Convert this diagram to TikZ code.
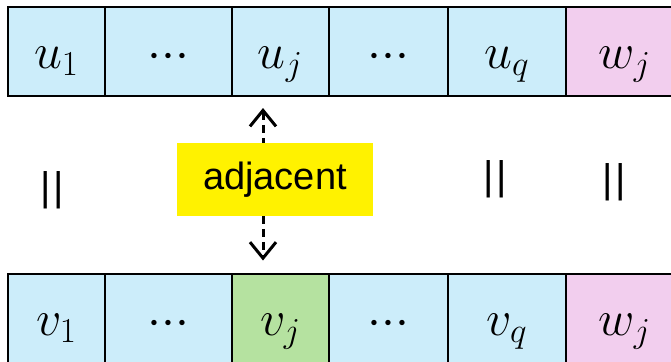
\RequirePackage{fix-cm}
\documentclass[tikz,border=0pt]{standalone}
\usepackage{fontspec}
\newfontfamily\arialfont{Liberation Sans}
\usepackage{tikz}
\usetikzlibrary{arrows.meta, calc}
\definecolor{cellblue}{RGB}{204,237,250}
\definecolor{cellpink}{RGB}{242,206,238}
\definecolor{cellgreen}{RGB}{181,226,160}
\newcommand{\celldots}{\mathord{\cdotp}\mathord{\cdotp}\mathord{\cdotp}}
\tikzset{
  cell/.style={rectangle, draw=black, line width=1.25pt, inner sep=0pt, outer sep=0pt, text height=30.5pt, text depth=14pt, font=\fontsize{25}{30}\selectfont},
  bigcell/.style={cell, text depth=25pt},
  tag/.style={rectangle, fill=yellow, minimum width=98pt, minimum height=36.5pt, inner sep=0pt, font=\arialfont\fontsize{19}{22}\selectfont},
  eqbar/.style={inner sep=0pt, font=\arialfont\fontsize{20}{24}\selectfont},
  darrow/.style={{Straight Barb[length=8pt,width=13pt]}-{Straight Barb[length=8pt,width=13pt]}, line width=1.5pt, dash pattern=on 4pt off 2.5pt},
}
\begin{document}
\begin{tikzpicture}[x=0.5pt, y=-0.5pt]
  \useasboundingbox (0,0) rectangle (671,361);
  \clip (0,0) rectangle (671,361);
  \foreach \i/\x/\w/\lab/\col in {1/8/97/u_1/cellblue, 2/105/127/\celldots/cellblue, 3/232/97/u_j/cellblue, 4/329/119/\celldots/cellblue, 5/448/118/u_q/cellblue, 6/566/118/w_j/cellpink} {
    \node[cell, fill=\col, minimum width=\w*0.5pt, anchor=north west] (u\i) at (\x,7) {$\lab$};
  }
  \foreach \i/\x/\w/\lab/\col in {1/8/97/v_1/cellblue, 2/105/127/\celldots/cellblue, 3/232/97/v_j/cellgreen, 4/329/119/\celldots/cellblue, 5/448/118/v_q/cellblue, 6/566/118/w_j/cellpink} {
    \node[bigcell, fill=\col, minimum width=\w*0.5pt, anchor=north west] (v\i) at (\x,274) {$\lab$};
  }
  \coordinate (ptop) at ($(u3.south)+(-17.5,12)$);
  \coordinate (pbot) at ($(v3.north)+(-17.5,-13.5)$);
  \draw[darrow] (ptop) -- (pbot);
  \node[tag] (adj) at (275,179.5) {adjacent};
  \node[eqbar] (eq1) at (52.5,190) {|\kern1.2pt|};
  \node[eqbar] (eq5) at (495,179) {|\kern1.2pt|};
  \node[eqbar] (eq6) at (614.5,182.5) {|\kern1.2pt|};
\end{tikzpicture}
\end{document}
